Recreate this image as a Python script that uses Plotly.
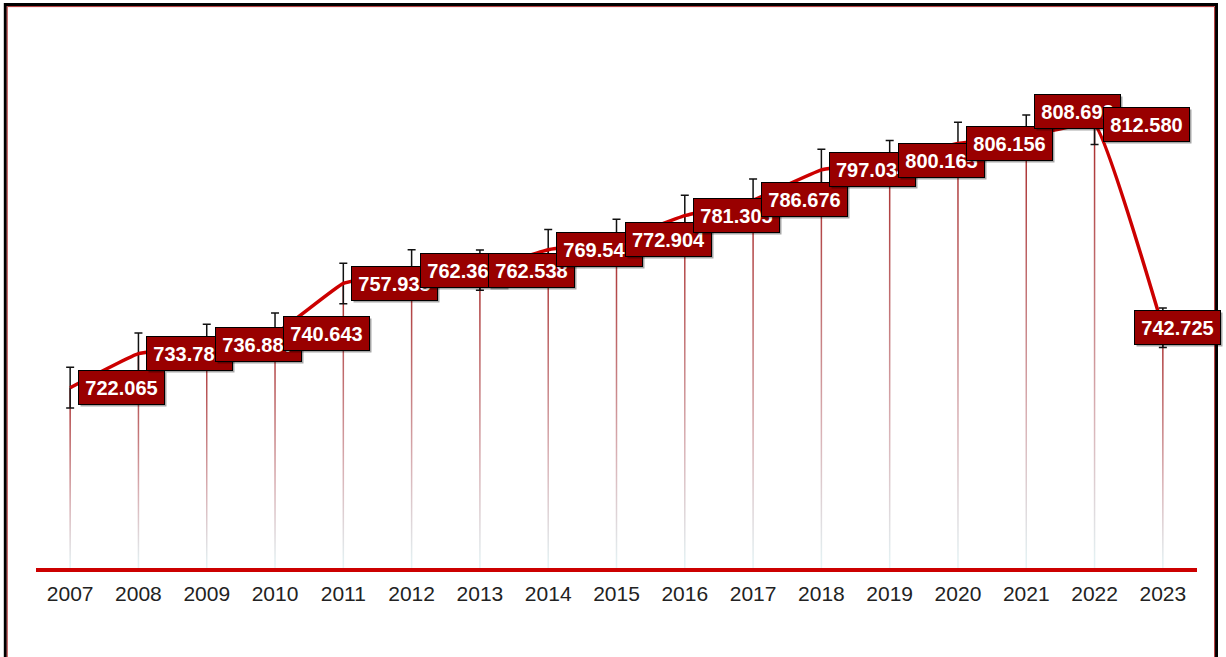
import plotly.graph_objects as go

# ---- data ----
years = [2007, 2008, 2009, 2010, 2011, 2012, 2013, 2014, 2015,
         2016, 2017, 2018, 2019, 2020, 2021, 2022, 2023]
values = [722.065, 733.782, 736.887, 740.643, 757.935, 762.363, 762.538, 769.547, 772.904,
          781.305, 786.676, 797.034, 800.165, 806.156, 808.692, 812.580, 742.725]
errors = [7.0, 7.1, 7.0, 7.1, 7.0, 7.2, 6.9, 7.0, 7.1,
          7.0, 7.2, 7.1, 7.0, 7.3, 7.2, 6.8, 6.8]
label_yshift = [0, 0, 0, 0, 0, 0, 0, 0, 0,
                0, 0, 0, 0, 0, 25, 0, 0]
label_xshift = [8, 8, 8, 8, 8, 8, 8, 8, 8,
                8, 8, 8, 8, 8, 8, 8, -29]

# ---- layout geometry ----
W, H = 1226, 657
ML, MR, MT, MB = 36, 29, 16, 89
YMIN, YMAX = 660, 850
XMIN, XMAX = years[0] - 0.5, years[-1] + 0.5
plot_w = W - ML - MR
plot_h = H - MT - MB
px_per_year = plot_w / (XMAX - XMIN)
half = 0.75 / px_per_year

LINE_RED = "#cc0000"
LABEL_BG = "#990000"

fig = go.Figure()

# gradient drop lines
for yr, v in zip(years, values):
    fig.add_trace(go.Scatter(
        x=[yr - half, yr + half, yr + half, yr - half, yr - half],
        y=[YMIN, YMIN, v, v, YMIN],
        mode="lines", line=dict(width=0), fill="toself",
        fillgradient=dict(type="vertical",
                          colorscale=[[0, "#e4f4f6"], [0.35, "#d8b0b4"], [1, "#a82828"]]),
        hoverinfo="skip", showlegend=False))

# main line with error bars
fig.add_trace(go.Scatter(
    x=years, y=values, mode="lines",
    line=dict(color=LINE_RED, width=3.5, shape="spline", smoothing=0.3),
    error_y=dict(type="data", array=errors, visible=True,
                 color="#111111", thickness=1.5, width=4),
    hoverinfo="skip", showlegend=False))

# labels
annotations = []
for yr, v, ys, xs in zip(years, values, label_yshift, label_xshift):
    txt = f"{v:.3f}"
    annotations.append(dict(
        x=yr, y=v, xref="x", yref="y", text=txt, showarrow=False,
        xanchor="left", yanchor="middle", xshift=xs + 2, yshift=ys - 2,
        width=79, height=27, align="center",
        font=dict(family="Liberation Sans, Arial", size=20, color="rgba(0,0,0,0)", weight="bold"),
        bgcolor="rgba(0,0,0,0.35)", bordercolor="rgba(0,0,0,0)", borderwidth=1, borderpad=3))
    annotations.append(dict(
        x=yr, y=v, xref="x", yref="y", text=txt, showarrow=False,
        xanchor="left", yanchor="middle", xshift=xs, yshift=ys,
        width=79, height=27, align="center",
        font=dict(family="Liberation Sans, Arial", size=20, color="white", weight="bold"),
        bgcolor=LABEL_BG, bordercolor="#000000", borderwidth=1, borderpad=3))


def px_x(p):
    return (p - ML) / plot_w


def px_y(p):
    return (H - MB - p) / plot_h


shapes = [
    dict(type="rect", xref="paper", yref="paper",
         x0=px_x(5.3), x1=px_x(1216.5), y0=px_y(720), y1=px_y(4.5),
         line=dict(color="#000000", width=3), layer="above"),
    dict(type="rect", xref="paper", yref="paper",
         x0=px_x(7.2), x1=px_x(1214.6), y0=px_y(720), y1=px_y(6.6),
         line=dict(color="#b03030", width=1), layer="above"),
]

fig.update_layout(
    width=W, height=H,
    margin=dict(l=ML, r=MR, t=MT, b=MB),
    paper_bgcolor="white", plot_bgcolor="white",
    showlegend=False,
    annotations=annotations,
    shapes=shapes,
    xaxis=dict(range=[XMIN, XMAX], tickmode="array", tickvals=years,
               ticktext=[str(y) for y in years],
               showgrid=False, zeroline=False, ticks="",
               showline=True, linecolor=LINE_RED, linewidth=4, layer="below traces",
               tickfont=dict(family="Liberation Sans, Arial", size=21, color="#222222"),
               ticklabelstandoff=4),
    yaxis=dict(range=[YMIN, YMAX], visible=False, showgrid=False, zeroline=False),
)

fig.write_html("out.html", config={"displayModeBar": False},
               post_script="document.body.style.margin='0';")
